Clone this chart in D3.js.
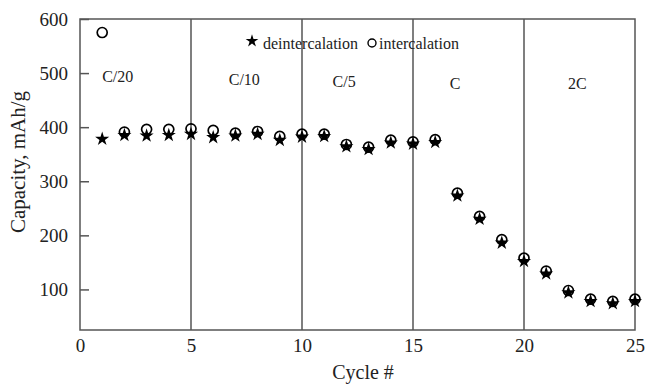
<!DOCTYPE html>
<html>
<head>
<meta charset="utf-8">
<script src="https://cdn.jsdelivr.net/npm/d3@7"></script>
<style>
  body { margin: 0; background: #fff; }
  svg text { font-family: "Liberation Serif", "Times New Roman", serif; fill: #222; }
</style>
</head>
<body>
<svg id="chart" width="645" height="385"></svg>
<script>
// cycle numbers and measured capacities (mAh/g)
var cycles = [1,2,3,4,5,6,7,8,9,10,11,12,13,14,15,16,17,18,19,20,21,22,23,24,25];
var deintercalation = [379,386,385,386,388,382,385,388,377,383,384,365,360,372,370,373,274,231,187,153,130,95,79,75,79];
var intercalation   = [575,391,396,396,397,394,389,392,383,387,387,368,363,376,373,377,278,235,192,158,134,98,82,78,82];
var rateLabels = ["C/20","C/10","C/5","C","2C"];
var rateLabelX = [1.7, 7.4, 11.9, 16.9, 22.4];
var rateLabelY = [494, 488, 485, 481, 481];
var separators = [5,10,15,20];
var yTicks = [100,200,300,400,500,600];
var xTicks = [0,5,10,15,20,25];

var svg = d3.select("#chart");
var x = d3.scaleLinear().domain([0,25]).range([80,635]);
var y = d3.scaleLinear().domain([25,600]).range([330,19]);
var lineColor = "#555";

// frame
svg.append("rect")
    .attr("x", x(0)).attr("y", y(600))
    .attr("width", x(25) - x(0)).attr("height", y(25) - y(600))
    .attr("fill", "none").attr("stroke", lineColor).attr("stroke-width", 1.5);

// rate separators
svg.append("g").selectAll("line")
    .data(separators)
    .enter().append("line")
    .attr("x1", function(d) { return x(d); })
    .attr("x2", function(d) { return x(d); })
    .attr("y1", y(600)).attr("y2", y(25))
    .attr("stroke", lineColor).attr("stroke-width", 1.5);

// y axis, ticks pointing inward
var yAxis = svg.append("g")
    .attr("transform", "translate(" + x(0) + ",0)")
    .call(d3.axisLeft(y).tickValues(yTicks).tickSizeInner(-9).tickSizeOuter(0).tickPadding(12));
yAxis.select(".domain").remove();
yAxis.selectAll("line").attr("stroke", lineColor).attr("stroke-width", 1.5);
yAxis.selectAll("text").style("font-size", "19px").attr("fill", "#222");

// x axis labels only
var xAxis = svg.append("g")
    .attr("transform", "translate(0," + y(25) + ")")
    .call(d3.axisBottom(x).tickValues(xTicks).tickSize(0).tickPadding(9));
xAxis.select(".domain").remove();
xAxis.selectAll("text").style("font-size", "19px").attr("fill", "#222");

// axis titles
svg.append("text")
    .attr("transform", "translate(18,162) rotate(-90)")
    .attr("text-anchor", "middle")
    .attr("dominant-baseline", "central")
    .style("font-size", "21px")
    .text("Capacity, mAh/g");
svg.append("text")
    .attr("x", 363).attr("y", 372)
    .attr("text-anchor", "middle")
    .attr("dominant-baseline", "central")
    .style("font-size", "20px")
    .text("Cycle #");

// rate labels
svg.append("g").selectAll("text")
    .data(rateLabels)
    .enter().append("text")
    .attr("x", function(d, i) { return x(rateLabelX[i]); })
    .attr("y", function(d, i) { return y(rateLabelY[i]); })
    .attr("text-anchor", "middle")
    .attr("dominant-baseline", "central")
    .style("font-size", "16px")
    .text(function(d) { return d; });

// series
var star = d3.symbol().type(d3.symbolStar).size(62);

svg.append("g").selectAll("circle")
    .data(cycles)
    .enter().append("circle")
    .attr("cx", function(d) { return x(d); })
    .attr("cy", function(d, i) { return y(intercalation[i]); })
    .attr("r", 5)
    .attr("fill", "none").attr("stroke", "#000").attr("stroke-width", 1.7);

svg.append("g").selectAll("path")
    .data(cycles)
    .enter().append("path")
    .attr("d", star)
    .attr("transform", function(d, i) { return "translate(" + x(d) + "," + (y(deintercalation[i]) + 0.5) + ")"; })
    .attr("fill", "#000");

// legend
var legend = svg.append("g");
legend.append("path").attr("d", d3.symbol().type(d3.symbolStar).size(50))
    .attr("transform", "translate(252,41)").attr("fill", "#000");
legend.append("text").attr("x", 263).attr("y", 43)
    .attr("dominant-baseline", "central").style("font-size", "16px").text("deintercalation");
legend.append("circle").attr("cx", 372).attr("cy", 43).attr("r", 4)
    .attr("fill", "none").attr("stroke", "#000").attr("stroke-width", 1.4);
legend.append("text").attr("x", 379).attr("y", 43)
    .attr("dominant-baseline", "central").style("font-size", "16px").text("intercalation");
</script>
</body>
</html>
